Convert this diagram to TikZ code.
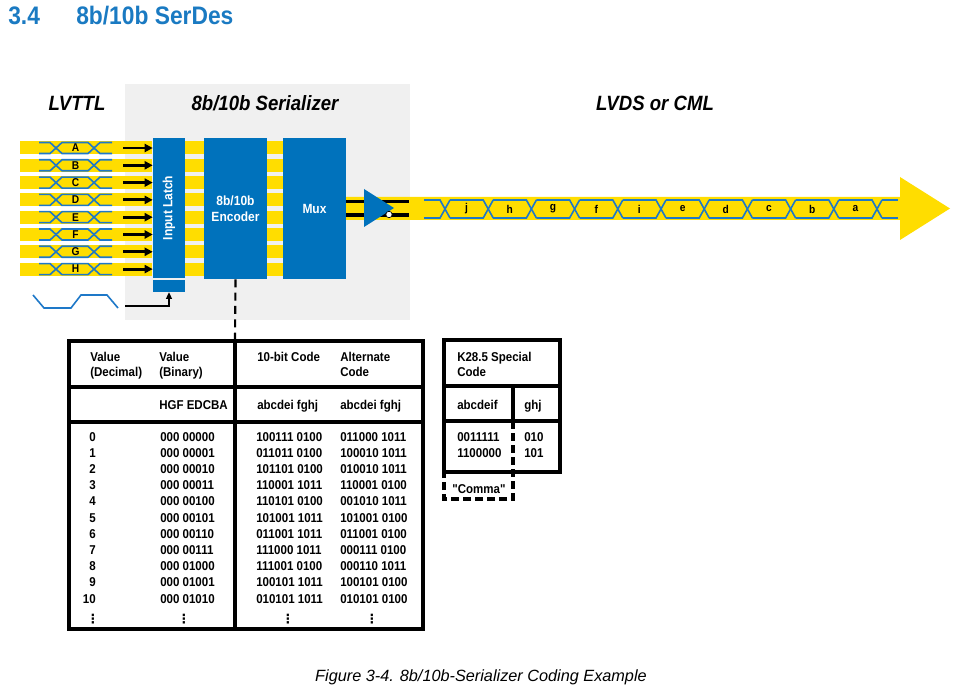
\documentclass[tikz,border=0pt]{standalone}
\usepackage{fontspec}
\setmainfont{Liberation Sans}[FakeStretch=0.9]
\newfontfamily\capfont{Liberation Sans}
\newfontfamily\qfont{Liberation Sans}[FakeStretch=0.9, Ligatures=TeXOff]
\newfontfamily\dotfont{DejaVu Sans}
\usetikzlibrary{fit,arrows.meta,calc}
\definecolor{tiblue}{RGB}{0,114,188}
\definecolor{titleblue}{RGB}{26,122,194}
\definecolor{tiyellow}{RGB}{255,221,0}
\definecolor{bggray}{RGB}{240,240,240}
\definecolor{eyeblue}{RGB}{30,120,200}
\tikzset{
  blk/.style={fill=tiblue, draw=none, inner sep=0pt},
  eye/.style={draw=eyeblue, line width=1.2pt},
  sigarrow/.style={line width=2.2pt, -{Triangle[length=6pt,width=6pt]}},
  tt/.style={font=\bfseries\fontsize{9.6}{11}\selectfont, inner sep=0pt, anchor=base west},
  ttr/.style={tt, anchor=base east},
  hdr/.style={font=\bfseries\itshape\fontsize{15.5}{18}\selectfont, inner sep=0pt, anchor=base},
  boxtxt/.style={font=\bfseries\fontsize{10}{12}\selectfont, text=white, inner sep=0pt, align=center},
  sig/.style={font=\bfseries\fontsize{8.5}{9}\selectfont, inner sep=0pt},
  tline/.style={line width=2.3pt},
  tdash/.style={line width=2.3pt, dash pattern=on 6pt off 3pt},
  vdot/.style={inner sep=0pt, font=\dotfont\bfseries\fontsize{9.5}{9.5}\selectfont},
}
\begin{document}
\begin{tikzpicture}[x=0.75pt,y=-0.75pt]
\useasboundingbox (0,0) rectangle (956,698);
% title
\node[anchor=base west, inner sep=0pt, text=titleblue, font=\bfseries\fontsize{19}{22}\selectfont] (secno) at (8,25) {3.4};
\node[anchor=base west, inner sep=0pt, text=titleblue, font=\bfseries\fontsize{19}{22}\selectfont] (sectitle) at (76,25) {8b/10b SerDes};
% gray background
\fill[bggray] (125,84) rectangle (410,320);
% headers
\node[hdr] (hlvttl) at (77,111) {LVTTL};
\node[hdr] (hser) at (265,111) {8b/10b Serializer};
\node[hdr] (hlvds) at (655,111) {LVDS or CML};
% blocks
\node[blk, fit={(153,138) (185,278)}] (latch) {};
\node[blk, fit={(153,280) (185,292)}] (latchclk) {};
\node[blk, fit={(204,138) (267,279)}] (enc) {};
\node[blk, fit={(283,138) (346,279)}] (mux) {};
\node[boxtxt, rotate=90] (latchtxt) at (latch.center) {Input Latch};
\node[boxtxt] (enctxt) at (enc.center) {8b/10b\\Encoder};
\node[boxtxt] (muxtxt) at (mux.center) {Mux};
% input rows
\foreach \L [count=\i from 0] in {A,B,C,D,E,F,G,H} {
  \pgfmathsetmacro\yc{148+17.3*\i}
  \fill[tiyellow] (20,\yc-6.5) rectangle (152,\yc+6.5);
  \fill[tiyellow] (185,\yc-6.5) rectangle (204,\yc+6.5);
  \fill[tiyellow] (267,\yc-6.5) rectangle (283,\yc+6.5);
  \draw[eye] (39,\yc-5.5) -- (50,\yc-5.5) -- (62,\yc+5.5) -- (88,\yc+5.5) -- (100,\yc-5.5) -- (112,\yc-5.5);
  \draw[eye] (39,\yc+5.5) -- (50,\yc+5.5) -- (62,\yc-5.5) -- (88,\yc-5.5) -- (100,\yc+5.5) -- (112,\yc+5.5);
  \node[sig] (in\L) at (75.5,\yc) {\L};
  \coordinate (as\L) at (123,\yc);
  \draw[sigarrow] (as\L) -- (as\L -| latch.west);
}
% output stream
\fill[tiyellow] (346,197) -- (900,197) -- (900,177) -- (950,208.5) -- (900,240) -- (900,220) -- (346,220) -- cycle;
\draw[line width=2.3pt] (346,201.5) -- (409,201.5);
\draw[line width=2.3pt] (346,215) -- (409,215);
\fill[tiblue] (364,189) -- (394,208) -- (364,227) -- cycle;
\draw[fill=white, line width=0.5pt] (389,214.5) circle (3.2);
\def\tp{200}
\def\bt{218}
\draw[eye] (424,\tp) -- (440,\tp) -- (450,\bt);
\draw[eye] (424,\bt) -- (440,\bt) -- (450,\tp);
\foreach \L [count=\k from 0] in {j,h,g,f,i,e,d,c,b,a} {
  \pgfmathsetmacro\ca{445+43.2*\k}
  \pgfmathsetmacro\cb{445+43.2*(\k+1)}
  \draw[eye] (\ca+5,\tp) -- (\cb-5,\tp) -- (\cb+5,\bt);
  \draw[eye] (\ca+5,\bt) -- (\cb-5,\bt) -- (\cb+5,\tp);
  \node[sig] (bit\L) at ({(\ca+\cb)/2},209) {\L};
}
\draw[eye] (882,\tp) -- (898,\tp);
\draw[eye] (882,\bt) -- (898,\bt);
% clock
\draw[eye] (33,295) -- (44,308) -- (71,308) -- (81,295) -- (107,295) -- (118,308);
\coordinate (clk) at (125,306);
\draw[line width=0.9pt, -{Triangle[length=5pt,width=4.5pt]}] (clk) -| (latchclk.south);
% main table
\coordinate (tbltop) at (235,341);
\draw[line width=1.6pt, dash pattern=on 6pt off 4pt] (enc.south) -- (tbltop);
\draw[tline] (69,341) rectangle (423,629);
\draw[tline] (69,387) -- (423,387);
\draw[tline] (69,422) -- (423,422);
\draw[tline] (235,341) -- (235,629);
\node[tt] (h1a) at (90,361) {Value};
\node[tt] (h1b) at (90,377) {(Decimal)};
\node[tt] (h2a) at (159,361) {Value};
\node[tt] (h2b) at (159,377) {(Binary)};
\node[tt] (h3a) at (257,361) {10-bit Code};
\node[tt] (h4a) at (340,361) {Alternate};
\node[tt] (h4b) at (340,377) {Code};
\node[tt] (s2) at (159,409) {HGF EDCBA};
\node[tt] (s3) at (257,409) {abcdei fghj};
\node[tt] (s4) at (340,409) {abcdei fghj};
\foreach \d/\b/\c/\a [count=\i from 0] in {
  0/000 00000/100111 0100/011000 1011,
  1/000 00001/011011 0100/100010 1011,
  2/000 00010/101101 0100/010010 1011,
  3/000 00011/110001 1011/110001 0100,
  4/000 00100/110101 0100/001010 1011,
  5/000 00101/101001 1011/101001 0100,
  6/000 00110/011001 1011/011001 0100,
  7/000 00111/111000 1011/000111 0100,
  8/000 01000/111001 0100/000110 1011,
  9/000 01001/100101 1011/100101 0100,
  10/000 01010/010101 1011/010101 0100} {
  \pgfmathsetmacro\yb{441+16.2*\i}
  \node[ttr] (d\i) at (96,\yb) {\d};
  \node[tt] (b\i) at (160,\yb) {\b};
  \node[tt] (c\i) at (256,\yb) {\c};
  \node[tt] (a\i) at (340,\yb) {\a};
}
\foreach \x [count=\j] in {93,184,288,372} {
  \node[vdot] (dots\j) at (\x,619) {⋮};
}
% K28.5 table
\draw[tline] (444,472) -- (444,340) -- (560,340) -- (560,472) -- (444,472);
\draw[tline] (444,386) -- (560,386);
\draw[tline] (444,421) -- (560,421);
\draw[tline] (513,386) -- (513,421);
\draw[tdash] (513,421) -- (513,499) -- (444,499) -- (444,472);
\node[tt] (k1) at (457,361) {K28.5 Special};
\node[tt] (k2) at (457,377) {Code};
\node[tt] (k3) at (457,409) {abcdeif};
\node[tt] (k4) at (524,409) {ghj};
\node[tt] (k5) at (457,441) {0011111};
\node[tt] (k6) at (457,457) {1100000};
\node[tt] (k7) at (524,441) {010};
\node[tt] (k8) at (524,457) {101};
\node[tt, anchor=base, font=\qfont\bfseries\fontsize{9.6}{11}\selectfont] (comma) at (479,493) {"Comma"};
% caption
\node[anchor=base, inner sep=0pt, font=\capfont\itshape\fontsize{12.2}{14}\selectfont] (caption) at (481,681) {Figure 3-4. 8b/10b-Serializer Coding Example};
\end{tikzpicture}
\end{document}
